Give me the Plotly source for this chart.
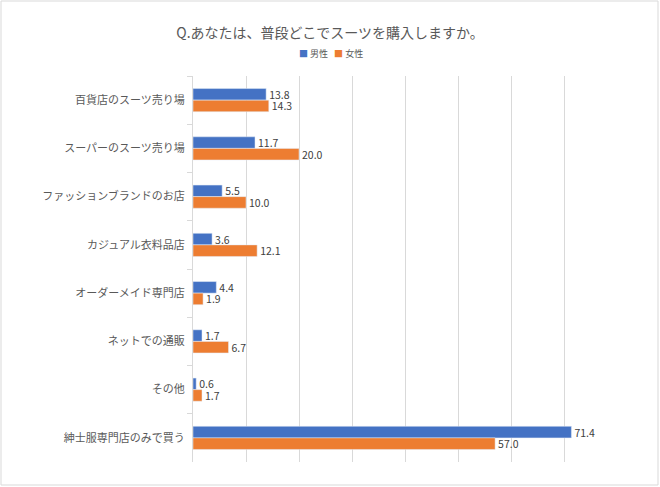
import plotly.graph_objects as go

categories = ["百貨店のスーツ売り場", "スーパーのスーツ売り場", "ファッションブランドのお店",
              "カジュアル衣料品店", "オーダーメイド専門店", "ネットでの通販", "その他",
              "紳士服専門店のみで買う"]
series_names = ["男性", "女性"]
male = [13.8, 11.7, 5.5, 3.6, 4.4, 1.7, 0.6, 71.4]
female = [14.3, 20.0, 10.0, 12.1, 1.9, 6.7, 1.7, 57.0]
colors = ["#4472C4", "#ED7D31"]

font_family = "Noto Sans CJK JP, Noto Sans, sans-serif"

W, H = 660, 487
L, R, T, B = 193, 43, 76, 25
pw, ph = W - L - R, H - T - B

fig = go.Figure()
for name, vals, col in zip(series_names, [male, female], colors):
    fig.add_trace(go.Bar(y=categories, x=vals, name=name, orientation="h",
                         marker_color=col, text=[f"{v:.1f}" for v in vals],
                         textposition="outside", cliponaxis=False, constraintext="none",
                         showlegend=False,
                         textfont=dict(size=10.5, color="#404040")))

legend_text = "   ".join(
    f'<span style="color:{c}">■</span> {n}' for n, c in zip(series_names, colors))

fig.update_layout(
    width=W, height=H,
    barmode="group", bargap=0.52, bargroupgap=0,
    plot_bgcolor="white", paper_bgcolor="white",
    font=dict(family=font_family, color="#595959"),
    margin=dict(l=L, r=R, t=T, b=B, autoexpand=False),
    title=dict(text="Q.あなたは、普段どこでスーツを購入しますか。", x=0.5, xanchor="center",
               y=1 - 33 / H, yanchor="middle", font=dict(size=14, color="#595959")),
    annotations=[dict(text=legend_text, xref="paper", yref="paper",
                      x=(331 - L) / pw, y=1 + (T - 53) / ph, xanchor="center",
                      yanchor="middle", showarrow=False,
                      font=dict(size=9, color="#595959"))],
    xaxis=dict(range=[0, 80], dtick=10, showticklabels=False, showgrid=True,
               gridcolor="#d9d9d9", gridwidth=1, zeroline=False, showline=False,
               automargin=False),
    yaxis=dict(autorange="reversed", showline=True, linecolor="#d9d9d9", automargin=False,
               ticks="outside", tickson="boundaries", ticklen=5, tickcolor="#d9d9d9",
               tickfont=dict(size=11, color="#595959"), ticksuffix="  "),
    shapes=[dict(type="rect", xref="paper", yref="paper", x0=-(L - 1) / pw, x1=1 + (R - 2) / pw,
                 y0=-(B - 2) / ph, y1=1 + (T - 1) / ph, line=dict(color="#d9d9d9", width=1))],
)

fig.write_html("out.html", config={"displayModeBar": False},
               post_script="document.body.style.margin='0';")
